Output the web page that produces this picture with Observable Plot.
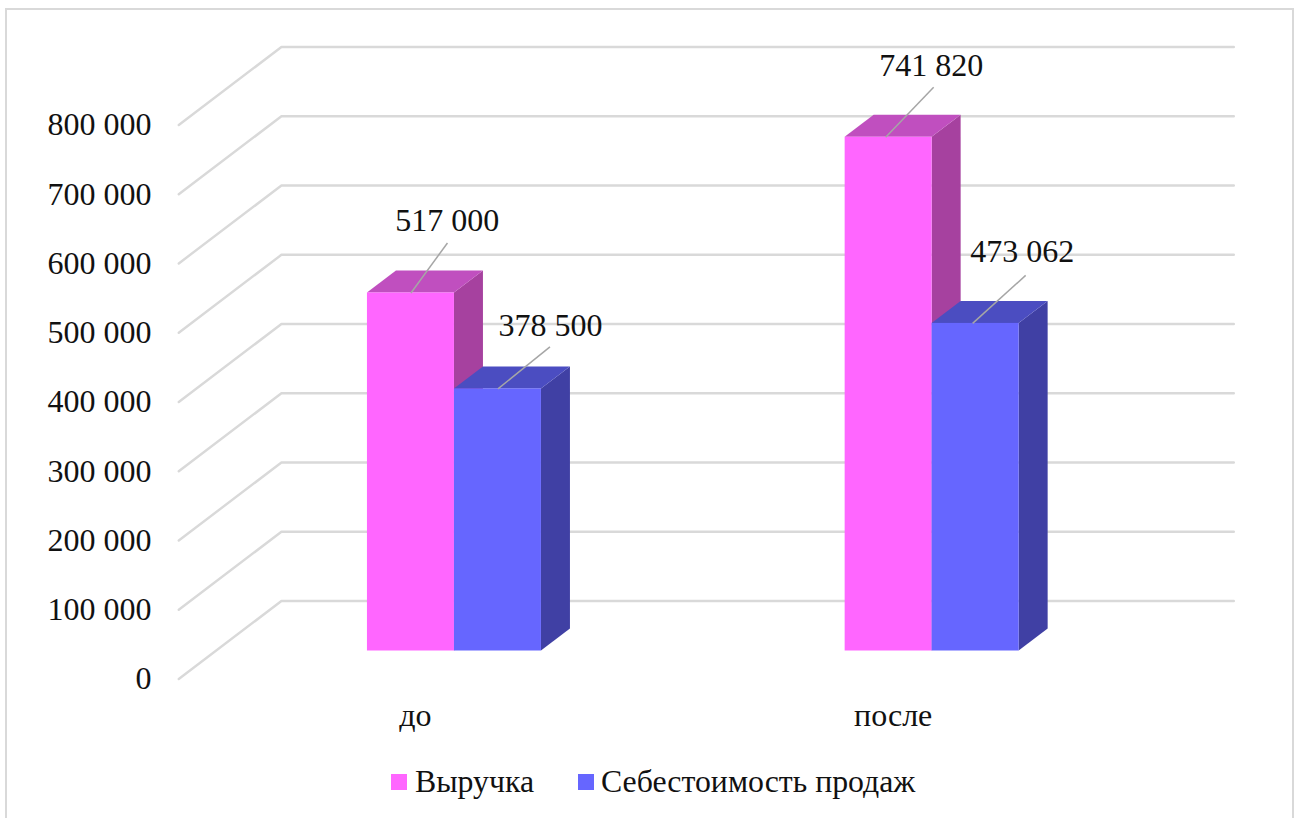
<!DOCTYPE html>
<html lang="ru">
<head>
<meta charset="utf-8">
<script src="https://cdn.jsdelivr.net/npm/d3@7"></script>
<script src="https://cdn.jsdelivr.net/npm/@observablehq/plot@0.6"></script>
<style>
  html, body { margin: 0; padding: 0; background: #fff; overflow: hidden; width: 1297px; height: 818px; }
  #frame { position: absolute; left: 5px; top: 8px; width: 1285px; height: 830px; border: 2px solid #d9d9d9; box-sizing: content-box; }
  #chart { position: absolute; left: 0; top: 0; }
  #chart svg { display: block; background: transparent; }
  #legend { position: absolute; left: 0; top: 760px; height: 44px; width: 1297px; font-family: "Liberation Serif", serif; font-size: 31.8px; color: #111; }
  #legend span.item { position: absolute; top: 4px; display: flex; align-items: center; white-space: nowrap; }
  #legend i { display: inline-block; width: 16px; height: 16px; }
</style>
</head>
<body>
<div id="frame"></div>
<div id="chart"></div>
<div id="legend"></div>
<script>
// Data
const categories = ["до", "после"];
const seriesNames = ["Выручка", "Себестоимость продаж"];
const revenue = [517000, 741820];
const cost = [378500, 473062];
const yTicks = [0, 100000, 200000, 300000, 400000, 500000, 600000, 700000, 800000];

// Styles and oblique projection
const palette = [
  {front: "#ff66ff", side: "#a6419f", top: "#c04fbf"},
  {front: "#6666ff", side: "#4040a4", top: "#4b4dc1"}
];
const pxPerCat = 477.7, pxPerVal = 69.25 / 100000;
const dxU = px => px / pxPerCat, dyU = px => px / pxPerVal;
const depthX = dxU(29), depthY = dyU(22);   // one unit of depth along the oblique axis
const zFront = -1.27, zBack = 2.27;
const barW = dxU(87);
const px = (x, z) => x + z * depthX;
const py = (v, z) => v + z * depthY;
const fmt = v => d3.format(",")(v).replace(/,/g, " ");

// Wall and floor grid
const gridEnd = 1.5 - dxU(3);
const gridRows = yTicks.flatMap(t => [
  {k: t, x: px(-0.5, zFront), y: py(t, zFront)},
  {k: t, x: px(-0.5, zBack), y: py(t, zBack)},
  {k: t, x: px(gridEnd, zBack), y: py(t, zBack)}
]);

const seriesValues = [revenue, cost];
const barMarks = [];
seriesValues.forEach((vals, s) => {
  const bars = vals.map((v, c) => {
    const x0 = c + (s === 0 ? -barW : 0), x1 = x0 + barW;
    return {c, v, x0, x1};
  });
  const sideRows = bars.flatMap(b => [0, 1].map(z => ({k: b.c, x: px(b.x1, z), y1: py(0, z), y2: py(b.v, z)})));
  const topRows = bars.flatMap(b => [0, 1].map(z => ({k: b.c, x1: px(b.x0, z), x2: px(b.x1, z), y: py(b.v, z)})));
  barMarks.push(
    Plot.area(sideRows, {x1: "x", y1: "y1", y2: "y2", z: "k", fill: palette[s].side}),
    Plot.area(topRows, {x1: "x1", x2: "x2", y1: "y", z: "k", fill: palette[s].top}),
    Plot.rect(bars, {x1: "x0", x2: "x1", y1: 0, y2: "v", fill: palette[s].front})
  );
});

// Callouts: [leader start dx, leader end dx, leader end dy, label dx, label dy] in pixels from the bar's top centre
const callouts = [
  [[0, 36.5, -50, 36.3, -72], [-3, 45, -50, 42.5, -72]],
  [[0, 52, -42, 52.5, -63], [-3, 50, -48, 46.5, -72]]
];
const calloutRows = seriesValues.flatMap((vals, s) => vals.map((v, c) => {
  const [sx, lx, ly, tx, ty] = callouts[s][c];
  const x = c + (s === 0 ? -barW / 2 : barW / 2);
  return {x: x + dxU(sx), v, x2: x + dxU(lx), y2: v - dyU(ly), tx: x + dxU(tx), ty: v - dyU(ty), label: fmt(v)};
}));

const font = '"Liberation Serif", serif';
const chart = Plot.plot({
  width: 1297,
  height: 760,
  marginLeft: 151,
  marginBottom: 57,
  marginTop: 0,
  marginRight: 0,
  style: {fontFamily: font, background: "transparent"},
  x: {domain: [-0.5, 1.5], range: [215.1, 1170.5]},
  y: {domain: [0, 800000], range: [650.5, 96.5]},
  marks: [
    Plot.line(gridRows, {x: "x", y: "y", z: "k", stroke: "#d9d9d9", strokeWidth: 2.4}),
    ...barMarks,
    Plot.link(calloutRows, {x1: "x", y1: "v", x2: "x2", y2: "y2", stroke: "#a6a6a6", strokeWidth: 1.5}),
    Plot.text(calloutRows, {x: "tx", y: "ty", text: "label", fontSize: 32, fill: "#111", lineAnchor: "middle", textAnchor: "middle"}),
    Plot.axisY({ticks: yTicks, tickSize: 0, tickPadding: 0, dy: 28, label: null, tickFormat: fmt, fontSize: 32, color: "#111"}),
    Plot.axisX({ticks: [0, 1], tickSize: 0, tickPadding: 0, dx: -39, label: null, tickFormat: i => categories[i], fontSize: 32, color: "#111"})
  ]
});
document.getElementById("chart").append(chart);

// Legend
const legend = document.getElementById("legend");
const legendX = [391, 578];
const legendGap = [8, 7];
seriesNames.forEach((name, i) => {
  const el = document.createElement("span");
  el.className = "item";
  el.style.left = legendX[i] + "px";
  const sw = document.createElement("i");
  sw.style.background = palette[i].front;
  sw.style.marginRight = legendGap[i] + "px";
  el.append(sw, name);
  legend.append(el);
});
</script>
</body>
</html>
